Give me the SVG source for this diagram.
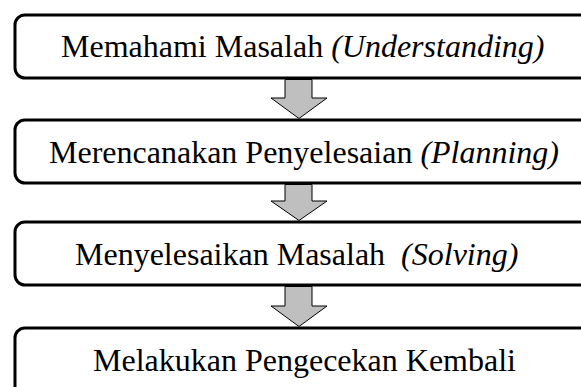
<svg xmlns="http://www.w3.org/2000/svg" width="581" height="387" viewBox="0 0 581 387">
<style>
.box{fill:#fff;stroke:#000;stroke-width:3}
.lbl{font-family:"Liberation Serif","Times New Roman",serif;font-size:32px;fill:#000;white-space:pre}
.it{font-style:italic}
.arr{fill:#bfbfbf;stroke:#000;stroke-width:1}
</style>
<rect width="581" height="387" fill="#fff"/>
<g id="node1">
<rect class="box" x="15" y="15" width="600" height="63" rx="10"/>
<text class="lbl" x="61" y="57">Memahami Masalah <tspan class="it">(Understanding)</tspan></text>
</g>
<g id="node2">
<rect class="box" x="15" y="120" width="600" height="63" rx="10"/>
<text class="lbl" x="49" y="163">Merencanakan Penyelesaian <tspan class="it">(Planning)</tspan></text>
</g>
<g id="node3">
<rect class="box" x="15" y="222" width="600" height="63" rx="10"/>
<text class="lbl" x="75" y="265" xml:space="preserve">Menyelesaikan Masalah  <tspan class="it">(Solving)</tspan></text>
</g>
<g id="node4">
<rect class="box" x="15" y="328" width="600" height="70" rx="10"/>
<text class="lbl" x="93" y="371">Melakukan Pengecekan Kembali</text>
</g>
<g id="connectors">
<polygon class="arr" points="285,79.5 312,79.5 312,98 327,98 299,118.5 271,98 285,98"/>
<polygon class="arr" points="285,184.5 312,184.5 312,201 327,201 299,220.5 271,201 285,201"/>
<polygon class="arr" points="285,286.5 312,286.5 312,306 327,306 299,326.5 271,306 285,306"/>
</g>
</svg>
